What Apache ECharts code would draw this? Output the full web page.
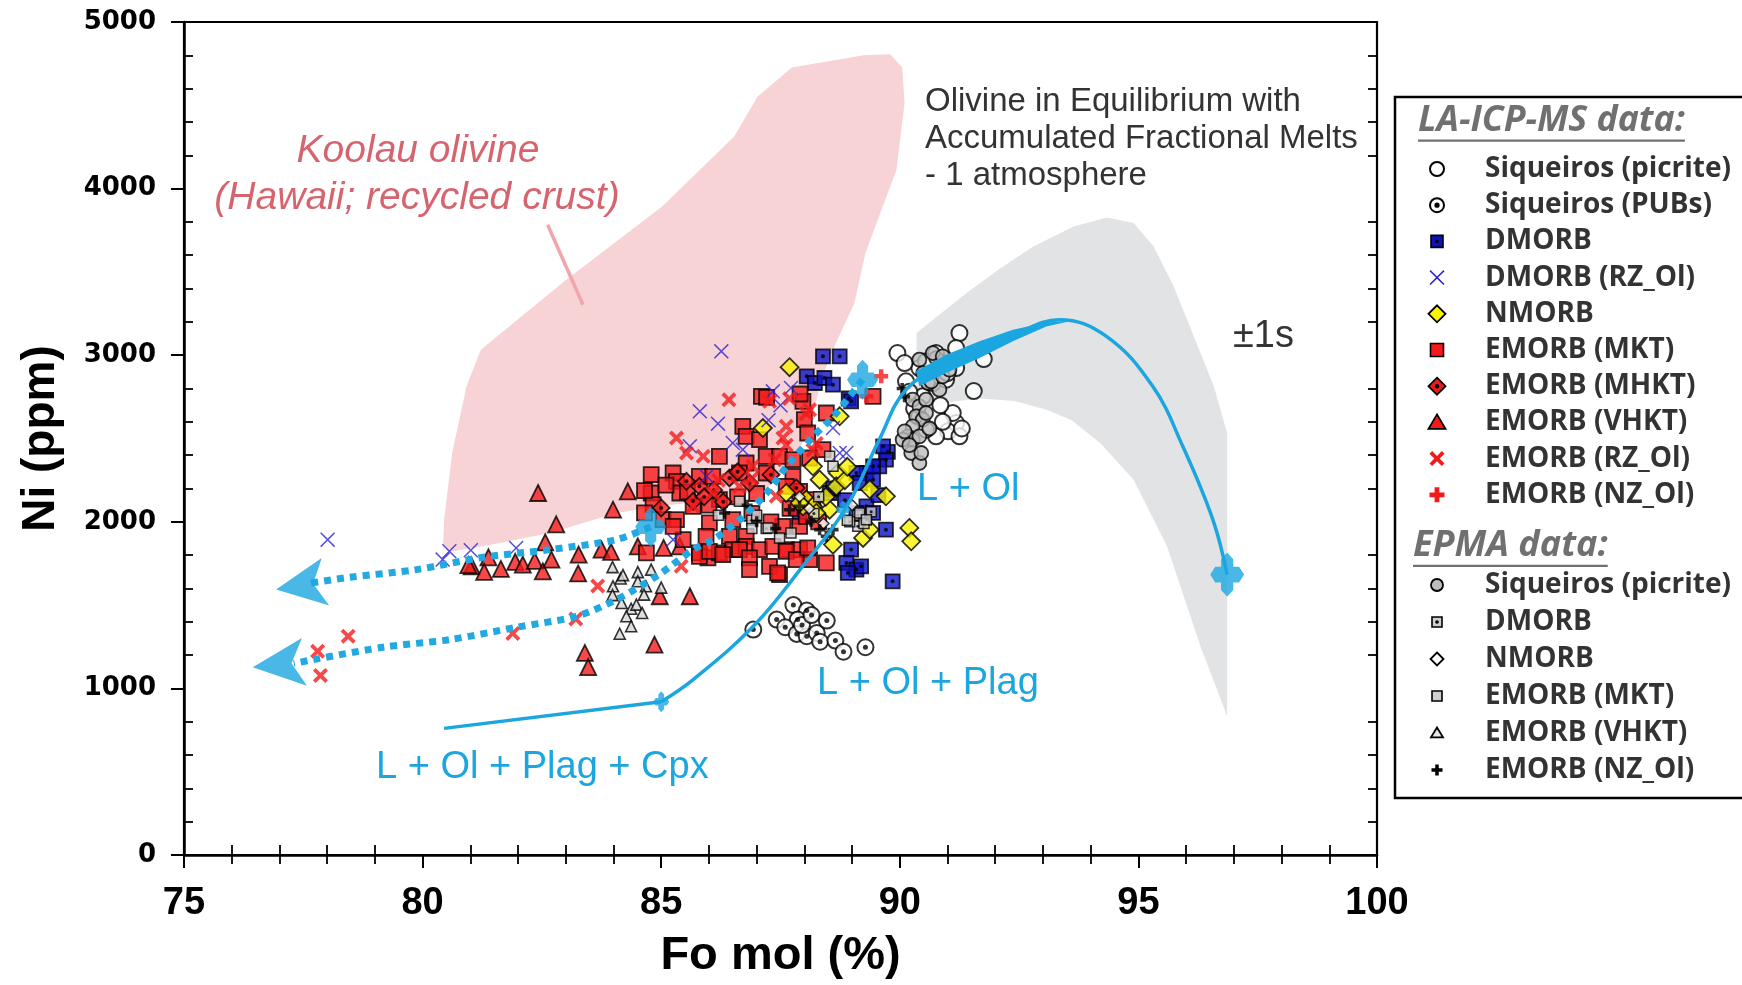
<!DOCTYPE html>
<html><head><meta charset="utf-8">
<script src="https://cdn.jsdelivr.net/npm/echarts@6/dist/echarts.min.js"></script>
<style>html,body{margin:0;padding:0;background:#fff}#chart{width:1742px;height:985px}</style>
</head><body><div id="chart"></div>
<script>
// ---------------- DATA ----------------
const xRange = [75, 100];
const yRange = [0, 5000];
const xTickStep = 5, yTickStep = 1000;

const siqPicriteLA = [[91.25,3133],[91.76,2977],[91.55,2785],[89.95,3013],[91.18,2593],[91.01,2543],[91.25,2513],[90.76,2513],[90.55,2553],[91.11,2653],[90.13,2843],[90.48,2753],[90.69,2833],[90.97,2853],[91.18,2923],[90.41,2923],[90.55,2963],[90.76,3013],[90.10,2953],[91.00,2893],[91.18,3043],[90.90,2953],[90.30,2680],[90.85,2700],[90.40,2630],[91.30,2560],[90.90,2600],[90.20,2780]];
const siqPubsLA = [[86.93,1353],[87.77,1500],[88.05,1467],[87.42,1413],[87.86,1413],[87.60,1367],[87.84,1327],[88.05,1313],[88.26,1333],[88.47,1407],[88.33,1280],[88.65,1287],[88.82,1220],[89.28,1247],[87.95,1380],[88.15,1440]];
const dmorbLA = [[88.39,2993],[88.74,2993],[88.05,2873],[88.22,2833],[88.42,2863],[88.60,2823],[88.93,2740],[88.98,2723],[89.75,2420],[89.71,2373],[89.57,2333],[89.30,2293],[89.09,2293],[89.16,2233],[89.44,2253],[88.53,2173],[89.30,2093],[89.44,2053],[89.09,2053],[89.71,1953],[88.98,1833],[88.88,1753],[89.09,1713],[89.19,1733],[89.85,1643],[88.91,1693],[88.60,2200],[88.85,2130],[89.55,2160],[87.90,2030],[88.15,2100],[89.65,2453],[89.44,2333]];
const dmorbRzLA = [[78.01,1893],[80.56,1823],[80.42,1773],[81.01,1829],[81.96,1843],[86.26,3023],[85.81,2663],[86.19,2589],[85.60,2453],[86.50,2473],[86.71,2433],[87.34,2783],[87.72,2803],[88.60,2563],[88.74,2413],[88.88,2413],[85.25,1893],[85.95,2273],[87.50,2700],[87.25,2610]];
const nmorbLA = [[87.69,2928],[88.74,2633],[87.13,2563],[88.18,2333],[88.32,2253],[88.70,2293],[88.67,2213],[89.37,2195],[89.71,2153],[88.04,2133],[87.97,2093],[88.18,2093],[88.53,2073],[89.23,1903],[90.20,1963],[90.24,1883],[89.37,1953],[88.85,2250],[87.62,2173],[87.90,2113],[88.25,2053],[88.60,1863],[88.45,2150],[88.90,2330]];
const emorbMktLA = [[84.79,2283],[84.79,2173],[84.83,2103],[85.04,2013],[85.25,2293],[85.32,2243],[85.39,2173],[85.80,2273],[86.08,2273],[86.22,2393],[86.71,2573],[86.78,2513],[87.06,2493],[87.10,2753],[87.97,2723],[88.00,2613],[88.07,2533],[88.46,2653],[89.44,2753],[86.78,2353],[87.20,2393],[87.48,2393],[87.76,2373],[86.64,2293],[87.20,2293],[87.76,2273],[86.01,1993],[86.50,2013],[85.94,1913],[86.43,1913],[86.78,1913],[85.32,2013],[85.46,1893],[85.80,1813],[85.98,1783],[86.22,1813],[86.50,1833],[86.78,1853],[87.06,1833],[87.34,1853],[87.62,1833],[87.90,1833],[88.11,1773],[88.46,1753],[87.27,1733],[87.48,1683],[87.55,1973],[87.90,1973],[88.04,2033],[88.18,2133],[87.90,2183],[87.62,2213],[88.11,2383],[88.39,2433],[86.22,2133],[85.67,2093],[85.25,1973],[84.69,1813],[85.80,1793],[86.01,1823],[86.29,1803],[86.64,1833],[86.85,1783],[86.85,1713],[87.44,1693],[87.62,1823],[87.83,1773],[88.07,1843],[84.65,2187],[84.65,2053],[87.21,2747],[87.91,2767],[85.55,2180],[86.00,2100],[86.90,2050],[87.30,2000],[86.60,2150],[87.00,2170],[85.10,2220],[88.30,2000],[87.70,2080]];
const emorbMhktLA = [[85.00,2083],[85.53,2243],[85.67,2123],[85.80,2213],[86.43,2263],[86.85,2233],[87.83,2203],[86.10,2190],[86.60,2300],[85.90,2150],[87.30,2283],[86.30,2120]];
const emorbVhktLA = [[82.42,2173],[84.30,2183],[83.99,2073],[82.80,1985],[82.57,1877],[81.38,1787],[81.03,1733],[81.29,1700],[81.64,1717],[81.94,1760],[82.10,1743],[82.35,1766],[82.52,1703],[82.70,1773],[83.27,1803],[83.26,1690],[83.75,1833],[83.95,1820],[84.51,1853],[85.05,1843],[85.39,1853],[84.97,1553],[85.60,1553],[84.86,1263],[83.40,1213],[83.47,1128],[80.96,1740]];
const emorbRzLA = [[77.80,1223],[78.44,1313],[77.86,1077],[81.89,1330],[83.21,1417],[83.67,1615],[85.42,1733],[86.42,2733],[85.32,2503],[85.53,2413],[85.88,2393],[87.27,2723],[87.55,2503],[87.62,2573],[88.11,2673],[88.18,2430],[88.25,2470],[86.92,2333],[87.38,2373],[86.08,2173],[86.64,2213],[87.41,2153],[85.67,2093],[87.69,2740],[88.04,2650],[87.62,2460],[86.90,2260],[86.20,2250]];
const emorbNzLA = [[89.61,2873],[89.30,2753]];

const siqPicriteEPMA = [[90.41,2973],[90.76,2983],[90.69,3013],[90.90,2993],[90.49,2893],[90.83,2793],[90.59,2833],[90.27,2733],[90.41,2693],[90.55,2733],[90.34,2633],[90.48,2613],[90.55,2653],[90.27,2573],[90.17,2513],[90.27,2493],[90.41,2513],[90.24,2413],[90.41,2353],[90.45,2413],[90.06,2493],[90.10,2543],[90.66,2843],[90.90,2873],[91.04,2913],[90.62,2560],[90.20,2460]];
const dmorbEPMA = [[89.12,2040],[89.30,2013],[89.12,1973],[89.25,1990],[88.95,2000],[89.40,2060],[88.30,2150],[88.20,2050],[87.20,1960],[86.90,2010]];
const nmorbEPMA = [[88.10,2080],[88.40,1990],[87.90,2150],[89.00,2100]];
const emorbMktEPMA = [[87.24,1963],[87.48,1903],[87.72,1933],[86.64,2123],[88.53,2393],[88.60,2333],[89.16,2053],[89.30,2013],[86.90,1960],[87.00,2040],[88.90,2010],[86.20,2040]];
const emorbVhktEPMA = [[83.98,1728],[84.15,1660],[83.99,1613],[83.98,1560],[84.17,1513],[84.37,1478],[84.27,1433],[84.37,1373],[84.13,1328],[84.51,1698],[84.51,1643],[84.68,1613],[84.64,1563],[84.48,1503],[84.60,1453],[85.00,1605],[84.79,1713],[84.20,1680]];
const emorbNzEPMA = [[86.33,2053],[87.69,2073],[88.32,1953],[88.14,2003],[88.46,1913],[87.90,2093],[88.60,1953],[87.00,2000],[86.80,2100],[87.40,1960],[90.05,2800],[90.10,2750]];

// fields and model curves
const koolauField = [[80.45,2013],[80.62,2413],[80.92,2813],[81.22,3033],[83.01,3453],[85.02,3893],[86.53,4313],[87.02,4553],[87.74,4727],[89.24,4800],[89.80,4807],[90.05,4727],[90.10,4513],[89.93,4113],[89.28,3613],[89.05,3313],[88.63,3053],[88.37,2867],[88.14,2600],[87.79,2367],[87.21,2200],[86.28,2133],[85.11,2100],[84.06,2053],[82.67,1933],[81.27,1853],[80.57,1820],[80.43,1867]];
const koolauPointer = [[82.62,3783],[83.36,3303]];
const sigmaBand = [[90.35,2700],[90.35,3133],[90.90,3260],[91.40,3373],[92.10,3520],[92.80,3653],[93.64,3773],[94.34,3827],[94.90,3793],[95.32,3653],[95.74,3413],[96.16,3113],[96.58,2813],[96.86,2533],[96.86,833],[96.30,1253],[95.60,1853],[94.90,2253],[94.20,2473],[93.60,2610],[93.08,2673],[92.40,2725],[91.68,2740],[91.10,2720],[90.77,2690]];
const curveCpx = [[80.45,760],[85.00,920]];
const curveOl = [[85.00,920],[85.67,1053],[86.93,1373],[87.91,1713],[88.89,2093],[89.57,2493],[90.13,2793],[90.97,2945],[92.37,3120],[93.35,3213],[94.33,3113],[95.30,2813],[95.93,2453],[96.56,2013],[96.86,1683]];
const curveBand = [[90.34,2903],[90.97,3003],[91.67,3083],[92.37,3153],[93.07,3197],[93.63,3209],[93.07,3173],[92.37,3083],[91.67,2983],[90.97,2893],[90.41,2813]];
const trendUpper = [[84.78,1970],[84.06,1893],[82.67,1833],[81.27,1787],[79.87,1713],[78.47,1667],[77.60,1630]];
const trendLower = [[89.22,2853],[88.61,2633],[88.19,2513],[87.63,2333],[87.21,2173],[86.65,2013],[86.09,1893],[85.67,1833],[84.90,1673],[84.06,1533],[83.22,1433],[81.97,1367],[80.57,1293],[79.17,1247],[77.30,1150]];
const arrowTips = [[76.93,1593],[76.44,1127]];
const modelPoints = [[96.86,1683],[89.22,2853],[84.78,1970],[88.81,2073],[85.00,920]];

const laLegend = ['Siqueiros (picrite)','Siqueiros (PUBs)','DMORB','DMORB (RZ_Ol)','NMORB','EMORB (MKT)','EMORB (MHKT)','EMORB (VHKT)','EMORB (RZ_Ol)','EMORB (NZ_Ol)'];
const epmaLegend = ['Siqueiros (picrite)','DMORB','NMORB','EMORB (MKT)','EMORB (VHKT)','EMORB (NZ_Ol)'];

// ---------------- STYLE ----------------
const CYAN = '#1ca6e0', RED = '#f41a1a', BLUE = '#0c12c4', XBLUE = '#2c22d2', YEL = '#fbf200', GREY = '#bdbdbd';
const P_XTHICK = [[3.6,0],[10,6.4],[16.4,0],[20,3.6],[13.6,10],[20,16.4],[16.4,20],[10,13.6],[3.6,20],[0,16.4],[6.4,10],[0,3.6]];
const P_XTHIN = [[1.4,0],[10,8.6],[18.6,0],[20,1.4],[11.4,10],[20,18.6],[18.6,20],[10,11.4],[1.4,20],[0,18.6],[8.6,10],[0,1.4]];
const P_PLUS = [[6.8,0],[13.2,0],[13.2,6.8],[20,6.8],[20,13.2],[13.2,13.2],[13.2,20],[6.8,20],[6.8,13.2],[0,13.2],[0,6.8],[6.8,6.8]];
const P_CROSS = [[10,0],[13.6,3],[13.6,6.4],[17,6.4],[20,10],[17,13.6],[13.6,13.6],[13.6,17],[10,20],[6.4,17],[6.4,13.6],[3,13.6],[0,10],[3,6.4],[6.4,6.4],[6.4,3]];
const P_DIAM = [[10,0],[20,10],[10,20],[0,10]];
const P_TRI = [[10,0],[20,18],[0,18]];
const toPath = pts => 'path://M' + pts.map(p => p[0] + ',' + p[1]).join('L') + 'Z';

function sc(data, symbol, size, color, border) {
  return { type: 'scatter', data, symbol, symbolSize: size, silent: true, z: 3,
    itemStyle: { color, borderColor: '#000', borderWidth: border === undefined ? 1.8 : border } };
}
function dots(data, size) {
  return { type: 'scatter', data, symbol: 'circle', symbolSize: size, silent: true, z: 3, itemStyle: { color: '#000' } };
}
function polygonSeries(points, color, z) {
  return { type: 'custom', silent: true, z, data: points, clip: true,
    renderItem(params, api) {
      if (params.dataIndex !== 0) return null;
      return { type: 'polygon', shape: { points: points.map(p => api.coord(p)) }, style: { fill: color } };
    } };
}

// ---------------- LEGEND / TEXT GRAPHICS ----------------
const mctx = document.createElement('canvas').getContext('2d');
function tw(font, s) { mctx.font = font; return mctx.measureText(s).width; }
const G = [];
function txt(text, x, y, font, fill, align) {
  G.push({ type: 'text', x, y, z: 100, silent: true,
    style: { text, font, fill, align: align || 'left', verticalAlign: 'middle', textAlign: align || 'left', textVerticalAlign: 'middle' } });
}
function poly(pts, cx, cy, w, h, fill, stroke, lw) {
  G.push({ type: 'polygon', z: 101, silent: true, shape: { points: pts.map(p => [cx + (p[0] - 10) / 20 * w, cy + (p[1] - 10) / 20 * h]) },
    style: { fill, stroke: stroke || null, lineWidth: lw || 0 } });
}
function circ(cx, cy, r, fill, stroke, lw) {
  G.push({ type: 'circle', z: 101, silent: true, shape: { cx, cy, r }, style: { fill, stroke: stroke || null, lineWidth: lw || 0 } });
}
function sq(cx, cy, s, fill) {
  G.push({ type: 'rect', z: 101, silent: true, shape: { x: cx - s / 2, y: cy - s / 2, width: s, height: s }, style: { fill, stroke: '#000', lineWidth: 1.6 } });
}
G.push({ type: 'rect', z: 99, silent: true, shape: { x: 1395, y: 97, width: 420, height: 701 }, style: { fill: '#fff', stroke: '#000', lineWidth: 2.5 } });
function legendTitle(text, x, y, targetW) {
  const base = 'italic bold 30px "Open Sans"';
  const w0 = tw(base, text);
  const fs = Math.max(20, Math.min(40, 30 * targetW / w0));
  const font = 'italic bold ' + fs.toFixed(1) + 'px "Open Sans"';
  txt(text, x, y, font, '#707070');
  const w = tw(font, text);
  G.push({ type: 'line', z: 100, silent: true, shape: { x1: x, y1: y + fs * 0.55, x2: x + w, y2: y + fs * 0.55 }, style: { stroke: '#707070', lineWidth: 2.2 } });
}
legendTitle('LA-ICP-MS data:', 1418, 121, 267);
legendTitle('EPMA data:', 1413, 546, 195);
const LF = 'bold 28px "Open Sans"', LC = '#333333', IX = 1437, TX = 1485;
laLegend.forEach((t, i) => { txt(t, TX, 169 + 36.2 * i, LF, LC); });
epmaLegend.forEach((t, i) => { txt(t, TX, 585 + 37 * i, LF, LC); });
{
  const y = i => 169 + 36.2 * i;
  circ(IX, y(0), 7, '#fff', '#000', 2);
  circ(IX, y(1), 7, '#fff', '#000', 2); circ(IX, y(1), 2.6, '#000');
  sq(IX, y(2), 12, BLUE); circ(IX, y(2), 1.8, '#000');
  poly(P_XTHIN, IX, y(3), 15, 15, XBLUE);
  poly(P_DIAM, IX, y(4), 17, 17, YEL, '#000', 1.8);
  sq(IX, y(5), 13, RED);
  poly(P_DIAM, IX, y(6), 17, 17, RED, '#000', 1.8); circ(IX, y(6), 2.2, '#000');
  poly(P_TRI, IX, y(7), 17, 16, RED, '#000', 1.8);
  poly(P_XTHICK, IX, y(8), 15, 15, RED);
  poly(P_PLUS, IX, y(9), 15, 15, RED);
  const e = i => 585 + 37 * i;
  circ(IX, e(0), 6, GREY, '#000', 1.8);
  sq(IX, e(1), 10, '#cfcfcf'); circ(IX, e(1), 1.8, '#000');
  poly(P_DIAM, IX, e(2), 13, 13, '#fff', '#000', 1.8);
  sq(IX, e(3), 10, '#cfcfcf');
  poly(P_TRI, IX, e(4), 12, 11, '#e8e8e8', '#000', 1.8);
  poly(P_PLUS, IX, e(5), 11, 11, '#000');
}
// annotations
txt('Koolau olivine', 418, 151, 'italic 39px "Liberation Sans"', '#d6646e', 'center');
txt('(Hawaii; recycled crust)', 417, 198, 'italic 39px "Liberation Sans"', '#d6646e', 'center');
txt('Olivine in Equilibrium with', 925, 102, '33px "Liberation Sans"', '#333', 'left');
txt('Accumulated Fractional Melts', 925, 139, '33px "Liberation Sans"', '#333', 'left');
txt('- 1 atmosphere', 925, 176, '33px "Liberation Sans"', '#333', 'left');
txt('\u00b11s', 1233, 337, '38px "Liberation Sans"', '#333', 'left');
txt('L + Ol', 917, 490, '38px "Liberation Sans"', CYAN, 'left');
txt('L + Ol + Plag', 817, 684, '38px "Liberation Sans"', CYAN, 'left');
txt('L + Ol + Plag + Cpx', 376, 768, '38px "Liberation Sans"', CYAN, 'left');

// ---------------- AXES ----------------
const minorAxis = (pos, isX, len) => ({
  type: 'value', position: pos, min: isX ? xRange[0] : yRange[0], max: isX ? xRange[1] : yRange[1],
  interval: isX ? xTickStep : yTickStep,
  axisLine: { show: false }, axisTick: { show: false, inside: true }, axisLabel: { show: false },
  splitLine: { show: false },
  minorTick: { show: true, splitNumber: 5, length: len, lineStyle: { color: '#000', width: 1.8 } }
});

const option = {
  animation: false,
  backgroundColor: '#fff',
  grid: { left: 184, right: 365, top: 22, bottom: 130, show: true, borderColor: '#000', borderWidth: 2.2, backgroundColor: 'transparent' },
  xAxis: [
    { type: 'value', position: 'bottom', min: xRange[0], max: xRange[1], interval: xTickStep,
      axisLine: { show: true, onZero: false, lineStyle: { color: '#000', width: 2.5 } },
      axisTick: { show: true, inside: false, length: 13, lineStyle: { color: '#000', width: 2 } },
      axisLabel: { margin: 30, color: '#000', fontWeight: 'bold', fontSize: 38, fontFamily: '"Liberation Sans Narrow", "Liberation Sans", sans-serif', formatter: v => String(v) },
      splitLine: { show: false },
      name: 'Fo mol (%)', nameLocation: 'middle', nameGap: 78,
      nameTextStyle: { color: '#000', fontWeight: 'bold', fontSize: 47, fontFamily: '"Liberation Sans", sans-serif' } },
    minorAxis('bottom', true, 10),
    minorAxis('top', true, 9)
  ],
  yAxis: [
    { type: 'value', position: 'left', min: yRange[0], max: yRange[1], interval: yTickStep,
      axisLine: { show: true, onZero: false, lineStyle: { color: '#000', width: 2.5 } },
      axisTick: { show: true, inside: false, length: 13, lineStyle: { color: '#000', width: 2 } },
      axisLabel: { margin: 28, color: '#000', fontWeight: 'bold', fontSize: 26, fontFamily: '"DejaVu Sans", sans-serif', formatter: v => String(v) },
      splitLine: { show: false },
      name: 'Ni (ppm)', nameLocation: 'middle', nameGap: 120,
      nameTextStyle: { color: '#000', fontWeight: 'bold', fontSize: 46, fontFamily: '"Liberation Sans", sans-serif' } },
    minorAxis('left', false, 9),
    minorAxis('right', false, 9)
  ],
  graphic: { elements: G },
  series: [
    polygonSeries(koolauField, '#f8d3d5', 1),
    polygonSeries(sigmaBand, '#e2e3e5', 1),
    { type: 'line', data: koolauPointer, showSymbol: false, silent: true, z: 2, lineStyle: { color: '#f2a5ac', width: 3.5 } },
    sc(siqPicriteLA, 'circle', 16, '#fff', 2),
    sc(siqPicriteEPMA, 'circle', 14, GREY, 1.8),
    sc(siqPubsLA, 'circle', 16, '#fff', 2), dots(siqPubsLA, 5),
    sc(emorbVhktLA, 'triangle', 16, RED),
    sc(emorbVhktEPMA, 'triangle', 11, '#d6d6d6', 1.6),
    sc(dmorbLA, 'rect', 14, BLUE), dots(dmorbLA, 4),
    sc(emorbMktLA, 'rect', 15, RED),
    sc(emorbMhktLA, 'diamond', 17, RED), dots(emorbMhktLA, 4),
    sc(nmorbLA, 'diamond', 18, YEL),
    sc(dmorbEPMA, 'rect', 10, '#cfcfcf', 1.5), dots(dmorbEPMA, 3),
    sc(emorbMktEPMA, 'rect', 10, '#cfcfcf', 1.5),
    sc(nmorbEPMA, 'diamond', 11, '#fff', 1.5),
    sc(emorbNzEPMA, toPath(P_PLUS), 11, '#000', 0),
    sc(dmorbRzLA, toPath(P_XTHIN), 15, XBLUE, 0),
    sc(emorbRzLA, toPath(P_XTHICK), 15, RED, 0),
    sc(emorbNzLA, toPath(P_PLUS), 14, RED, 0),
    polygonSeries(curveBand, CYAN, 5),
    { type: 'line', data: curveCpx, showSymbol: false, silent: true, z: 5, lineStyle: { color: CYAN, width: 3.5 } },
    { type: 'line', data: curveOl, smooth: 0.4, showSymbol: false, silent: true, z: 5, lineStyle: { color: CYAN, width: 3.5 } },
    { type: 'line', data: trendUpper, smooth: 0.3, showSymbol: false, silent: true, z: 5, lineStyle: { color: '#22a9e2', width: 7, type: [7, 6], cap: 'butt' } },
    { type: 'line', data: trendLower, smooth: 0.3, showSymbol: false, silent: true, z: 5, lineStyle: { color: '#22a9e2', width: 7, type: [7, 6], cap: 'butt' } },
    { type: 'scatter', silent: true, z: 6, symbol: 'arrow',
      data: arrowTips.map((p, i) => ({ value: p, symbolRotate: [99, 96][i], symbolSize: [[36, 50], [36, 52]][i] })),
      itemStyle: { color: CYAN } },
    { type: 'scatter', silent: true, z: 6, symbol: toPath(P_CROSS),
      data: modelPoints.map((p, i) => ({ value: p, symbolSize: [[34, 44], [31, 40], [31, 40], [15, 18], [16, 21]][i] })),
      itemStyle: { color: CYAN } }
  ]
};
const chart = echarts.init(document.getElementById('chart'), null, { renderer: 'canvas' });
chart.setOption(option);
</script></body></html>
